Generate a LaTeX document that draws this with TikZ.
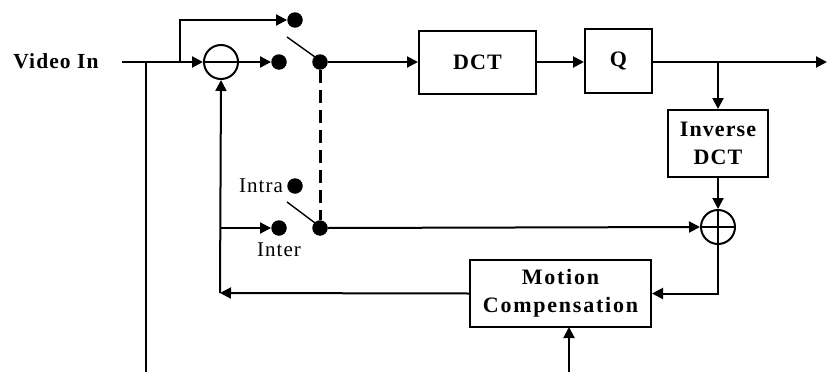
\documentclass[tikz,border=0pt]{standalone}
\usepackage{fontspec}
\setmainfont{Liberation Serif}
\newfontfamily\lblfont[LetterSpace=5]{Liberation Serif}
\newfontfamily\widefont[LetterSpace=8]{Liberation Serif}
\usetikzlibrary{arrows.meta}
\begin{document}
\begin{tikzpicture}[x=1pt,y=-1pt,
  conn/.style={line width=2pt},
  arr/.style={conn,-{Triangle[length=11pt,width=11pt]}},
  blk/.style={draw,line width=2pt,inner sep=0pt,align=center,font=\lblfont\bfseries\fontsize{22}{28}\selectfont},
  dot/.style={circle,fill,inner sep=0pt,minimum size=15.5pt},
  sumc/.style={circle,draw,line width=2pt,inner sep=0pt,minimum size=34pt},
  lbl/.style={inner sep=0pt,font=\lblfont\fontsize{21}{23}\selectfont},
  blbl/.style={inner sep=0pt,font=\lblfont\bfseries\fontsize{21.5}{23}\selectfont},
  swl/.style={line width=1.4pt},
  dsh/.style={line width=3pt,dash pattern=on 13pt off 7pt}]
\useasboundingbox (0,0) rectangle (827,372);

% labels
\node[blbl] (vin) at (56,61) {Video In};
\node[lbl] (intra) at (261,186) {Intra};
\node[lbl] (inter) at (279,250) {Inter};

% summing junctions
\node[sumc] (sub) at (221,62) {};
\node[sumc] (add) at (718,227) {};

% switch contacts
\node[dot] (d1) at (295,20) {};
\node[dot] (d2) at (279,62) {};
\node[dot] (sw1) at (320,62) {};
\node[dot] (d3) at (295,186) {};
\node[dot] (d4) at (279,228) {};
\node[dot] (sw2) at (320,228) {};

% blocks
\node[blk,minimum width=117pt,minimum height=63pt] (dct) at (477.5,62.5) {DCT};
\node[blk,minimum width=67pt,minimum height=64pt] (q) at (618.5,61) {Q};
\node[blk,minimum width=100pt,minimum height=67pt] (idct) at (718,143.5) {Inverse\\DCT};
\node[blk,minimum width=181pt,minimum height=67pt,font=\widefont\bfseries\fontsize{22}{28}\selectfont] (mc) at (560.5,293.5) {Motion\\Compensation};

% coordinates
\coordinate (vs) at (122,62);
\coordinate (j1) at (146,62);
\coordinate (b1) at (146,372);
\coordinate (j2) at (180,62);
\coordinate (j3) at (718,62);
\coordinate (out) at (827,62);
\coordinate (fb) at (220,293);
\coordinate (j4) at (220,228);
\coordinate (mcin) at (569,372);
\coordinate (mcs) at (569,327);
\coordinate (s1a) at (287,37);
\coordinate (s1b) at (315,57);
\coordinate (s2a) at (287,202);
\coordinate (s2b) at (315,223);

% connectors
\draw[arr] (vs) -- (sub.west);
\draw[conn] (sub.west) -- (sub.east);
\draw[conn] (j1) -- (b1);
\draw[arr] (j2) |- (d1.west);
\draw[arr] (sub.east) -- (d2.west);
\draw[swl] (s1a) -- (s1b);
\draw[swl] (s2a) -- (s2b);
\draw[dsh] (sw1.south) -- (sw2.north);
\draw[arr] (sw1.east) -- (sw1.east -| dct.west);
\draw[arr] (dct.east |- sw1) -- (sw1 -| q.west);
\draw[arr] (q.east |- sw1) -- (out);
\draw[arr] (j3) -- (idct.north);
\draw[arr] (idct.south) -- (add.north);
\draw[arr] (sw2.east) -- (add.west);
\draw[conn] (add.north) -- (add.south);
\draw[conn] (add.west) -- (add.east);
\draw[arr] (add.south) |- (mc.east);
\draw[arr] (mc.west) -- (fb);
\draw[arr] (fb) -- (sub.south);
\draw[arr] (j4) -- (d4.west);
\draw[arr] (mcin) -- (mcs);
\end{tikzpicture}
\end{document}
